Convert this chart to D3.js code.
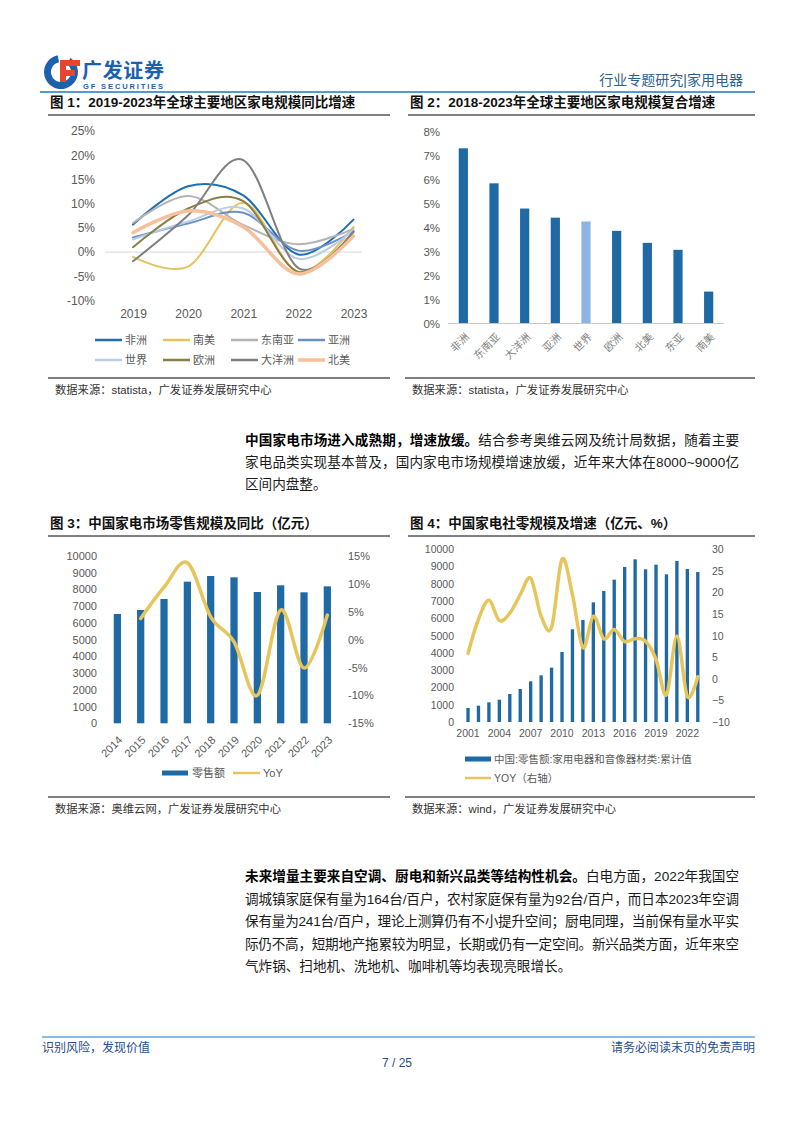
<!DOCTYPE html>
<html>
<head>
<meta charset="utf-8">
<script src="https://cdn.jsdelivr.net/npm/d3@7"></script>
<style>
body { margin: 0; background: #fff; }
svg { display: block; }
text { font-family: "Liberation Sans", "Noto Sans CJK SC", sans-serif; }
</style>
</head>
<body>
<svg id="page" width="794" height="1123"></svg>
<script>
// ---- chart 1 data: yoy growth by region, 2019-2023 (%)
const years1 = ['2019', '2020', '2021', '2022', '2023'];
const regions1 = ['非洲', '南美', '东南亚', '亚洲', '世界', '欧洲', '大洋洲', '北美'];
const africa = [5.7, 13.6, 11.7, -0.5, 6.7];
const southAmerica = [-1.0, -3.0, 10.2, -4.1, 5.2];
const southeastAsia = [6.0, 11.6, 5.6, 1.6, 4.8];
const asia = [3.0, 5.9, 8.1, 0.3, 4.3];
const world = [2.6, 6.3, 9.0, -1.4, 4.6];
const europe = [1.0, 9.0, 10.5, -4.1, 4.1];
const oceania = [-1.9, 7.6, 19.0, -3.3, 4.3];
const northAmerica = [4.0, 8.5, 5.2, -4.5, 3.3];

// ---- chart 2 data: CAGR 2018-2023 (%)
const regions2 = ['非洲', '东南亚', '大洋洲', '亚洲', '世界', '欧洲', '北美', '东亚', '南美'];
const cagr2 = [7.3, 5.84, 4.79, 4.41, 4.25, 3.86, 3.36, 3.07, 1.33];

// ---- chart 3 data: China appliance retail (亿元) and yoy (%)
const years3 = ['2014', '2015', '2016', '2017', '2018', '2019', '2020', '2021', '2022', '2023'];
const retail3 = [6534, 6773, 7430, 8466, 8805, 8725, 7849, 8247, 7829, 8187];
const yoyYears3 = ['2015', '2016', '2017', '2018', '2019', '2020', '2021', '2022', '2023'];
const yoy3 = [3.8, 9.4, 13.8, 4.1, -0.4, -10.0, 5.3, -5.1, 4.4];

// ---- chart 4 data: social retail of appliances (亿元) and yoy (%)
const years4 = d3.range(2001, 2024).map(String);
const retail4 = [811, 946, 1139, 1293, 1622, 1911, 2355, 2703, 3147, 4054, 5367, 5907, 6930,
  7587, 8243, 8977, 9421, 8842, 9112, 8552, 9324, 8861, 8687];
const yoy4 = [5.9, 13.8, 18.2, 13.5, 15.2, 19.5, 23.3, 14.5, 11.9, 27.7, 19.5, 7.2, 14.5,
  9.3, 11.4, 8.6, 9.3, 8.7, 4.5, -3.7, 9.9, -4.1, 0.5];
const xTicks4 = ['2001', '2004', '2007', '2010', '2013', '2016', '2019', '2022'];

const svg = d3.select('#page');
const AX = '#595959';
const BAR = '#1f6aa5';
const YOY = '#e6c65c';
const CN = '"Noto Sans CJK SC", sans-serif';

function clean(g, size) {
  g.select('.domain').remove();
  g.selectAll('.tick line').remove();
  g.selectAll('text').attr('fill', AX).style('font-size', size + 'px');
}

// ================= header =================
const logo = svg.append('g');
const arc = d3.arc().innerRadius(10).outerRadius(17).startAngle(0.6).endAngle(2 * Math.PI - 0.2);
logo.append('path').attr('d', arc).attr('transform', 'translate(61,72)').attr('fill', '#1b62ae');
logo.append('rect').attr('x', 60).attr('y', 60).attr('width', 20).attr('height', 6).attr('fill', '#e8452e');
logo.append('rect').attr('x', 60).attr('y', 70).attr('width', 15).attr('height', 6).attr('fill', '#e8452e');
logo.append('rect').attr('x', 60).attr('y', 60).attr('width', 6).attr('height', 22).attr('fill', '#e8452e');
logo.append('text').attr('x', 82).attr('y', 78).text('广发证券')
  .style('font-family', CN).style('font-weight', 'bold').style('font-size', '20px')
  .attr('fill', '#1b62ae').attr('textLength', 82);
logo.append('text').attr('x', 83).attr('y', 89).text('GF SECURITIES')
  .style('font-weight', 'bold').style('font-size', '7.5px').attr('fill', '#1b62ae').attr('textLength', 80);

svg.append('text').attr('x', 743).attr('y', 85).attr('text-anchor', 'end')
  .style('font-size', '14px').attr('fill', '#2f5f8f').text('行业专题研究|家用电器');
svg.append('line').attr('x1', 40).attr('x2', 755).attr('y1', 92).attr('y2', 92)
  .attr('stroke', '#1a7ac0').attr('stroke-width', 1.5);

// figure titles + rules
function figTitle(x, y, label, x2) {
  svg.append('text').attr('x', x).attr('y', y).style('font-size', '13.5px')
    .style('font-weight', 'bold').attr('fill', '#111').text(label);
  svg.append('line').attr('x1', x - 2).attr('x2', x2).attr('y1', y + 8).attr('y2', y + 8)
    .attr('stroke', '#000').attr('stroke-width', 1);
}
function source(x, y, label, x2) {
  svg.append('line').attr('x1', x - 7).attr('x2', x2).attr('y1', y - 12).attr('y2', y - 12)
    .attr('stroke', '#000').attr('stroke-width', 1);
  svg.append('text').attr('x', x).attr('y', y + 4).style('font-size', '11.3px')
    .attr('fill', '#333').text(label);
}
figTitle(50, 107, '图 1：2019-2023年全球主要地区家电规模同比增速', 390);
figTitle(410, 107, '图 2：2018-2023年全球主要地区家电规模复合增速', 755);
figTitle(50, 528, '图 3：中国家电市场零售规模及同比（亿元）', 390);
figTitle(410, 528, '图 4：中国家电社零规模及增速（亿元、%）', 755);
source(55, 390, '数据来源：statista，广发证券发展研究中心', 390);
source(412, 390, '数据来源：statista，广发证券发展研究中心', 755);
source(55, 809, '数据来源：奥维云网，广发证券发展研究中心', 390);
source(412, 809, '数据来源：wind，广发证券发展研究中心', 755);

// ================= chart 1 =================
{
  const series = [
    { name: regions1[0], v: africa, c: '#1f6fb0', w: 2 },
    { name: regions1[1], v: southAmerica, c: '#e6c35a', w: 2 },
    { name: regions1[2], v: southeastAsia, c: '#b3b3b3', w: 2 },
    { name: regions1[3], v: asia, c: '#6b90c8', w: 2 },
    { name: regions1[4], v: world, c: '#b9cde6', w: 2 },
    { name: regions1[5], v: europe, c: '#8b7e45', w: 2 },
    { name: regions1[6], v: oceania, c: '#7f7f7f', w: 2 },
    { name: regions1[7], v: northAmerica, c: '#f7c09a', w: 3.5 }
  ];
  const x = d3.scalePoint().domain(years1).range([133, 353.5]);
  const y = d3.scaleLinear().domain([-10, 25]).range([300.5, 131]);
  const g = svg.append('g');

  g.append('g').attr('transform', 'translate(95,0)')
    .call(d3.axisLeft(y).tickValues(d3.range(-10, 26, 5)).tickFormat(d => d + '%').tickSize(0).tickPadding(0))
    .call(a => clean(a, 12));
  g.append('g').attr('transform', 'translate(0,309)')
    .call(d3.axisBottom(x).tickSize(0).tickPadding(0))
    .call(a => clean(a, 12));
  g.append('line').attr('x1', 105).attr('x2', 362).attr('y1', y(0)).attr('y2', y(0))
    .attr('stroke', '#d9d9d9').attr('stroke-width', 1);

  const line = d3.line().x((d, i) => x(years1[i])).y(d => y(d)).curve(d3.curveCardinal);
  series.forEach(s => {
    g.append('path').attr('d', line(s.v)).attr('fill', 'none')
      .attr('stroke', s.c).attr('stroke-width', s.w).attr('stroke-linecap', 'round');
  });

  const lx = [95, 163, 231, 298];
  series.forEach((s, i) => {
    const row = Math.floor(i / 4), col = i % 4;
    const ly = 340 + row * 20;
    g.append('line').attr('x1', lx[col]).attr('x2', lx[col] + 27).attr('y1', ly).attr('y2', ly)
      .attr('stroke', s.c).attr('stroke-width', s.w === 2 ? 2.5 : 3.5);
    g.append('text').attr('x', lx[col] + 30).attr('y', ly).attr('dy', '0.35em')
      .style('font-size', '11px').attr('fill', AX).text(s.name);
  });
}

// ================= chart 2 =================
{
  const x = d3.scaleBand().domain(regions2).range([448, 724]).paddingInner(0.7).paddingOuter(0.35);
  const y = d3.scaleLinear().domain([0, 8]).range([323.5, 131.5]);
  const g = svg.append('g');
  g.append('g').attr('transform', 'translate(440,0)')
    .call(d3.axisLeft(y).ticks(8).tickFormat(d => d + '%').tickSize(0).tickPadding(0))
    .call(a => clean(a, 11.5));
  g.selectAll('.bar2').data(regions2).enter().append('rect')
    .attr('x', d => x(d)).attr('width', x.bandwidth())
    .attr('y', (d, i) => y(cagr2[i])).attr('height', (d, i) => y(0) - y(cagr2[i]))
    .attr('fill', d => d === '世界' ? '#8eb4e3' : BAR);
  g.append('line').attr('x1', 448).attr('x2', 724).attr('y1', y(0)).attr('y2', y(0))
    .attr('stroke', '#c8c8c8').attr('stroke-width', 1);
  const xa = g.append('g').attr('transform', 'translate(0,0)')
    .call(d3.axisBottom(x).tickSize(0).tickPadding(0))
    .call(a => clean(a, 10.5));
  xa.selectAll('.tick').attr('transform', d => `translate(${x(d) + x.bandwidth() / 2 + 4},335)`);
  xa.selectAll('text').attr('y', 0).attr('dy', '0.35em').attr('text-anchor', 'end')
    .attr('transform', 'rotate(-45)').attr('fill', '#7f7f7f');
}

// ================= paragraph 1 =================
function para(lines, x, y0, lh, width) {
  lines.forEach((ln, i) => {
    const t = svg.append('text').attr('x', x).attr('y', y0 + i * lh)
      .style('font-size', '13.6px').attr('fill', '#1a1a1a');
    if (ln.b) t.append('tspan').style('font-weight', 'bold').attr('fill', '#000').text(ln.b);
    if (ln.t) t.append('tspan').text(ln.t);
    if (ln.full) t.attr('textLength', width).attr('lengthAdjust', 'spacing');
  });
}
para([
  { b: '中国家电市场进入成熟期，增速放缓。', t: '结合参考奥维云网及统计局数据，随着主要', full: true },
  { t: '家电品类实现基本普及，国内家电市场规模增速放缓，近年来大体在8000~9000亿', full: true },
  { t: '区间内盘整。' }
], 245, 445, 22.2, 494);

// ================= chart 3 =================
{
  const x = d3.scaleBand().domain(years3).range([105.7, 339]).paddingInner(0.69).paddingOuter(0.345);
  const yl = d3.scaleLinear().domain([0, 10000]).range([723.3, 556]);
  const yr = d3.scaleLinear().domain([-15, 15]).range([723.3, 556]);
  const g = svg.append('g');
  g.append('g').attr('transform', 'translate(97,0)')
    .call(d3.axisLeft(yl).ticks(10).tickFormat(d3.format('d')).tickSize(0).tickPadding(0))
    .call(a => clean(a, 11));
  g.append('g').attr('transform', 'translate(348,0)')
    .call(d3.axisRight(yr).tickValues(d3.range(-15, 16, 5)).tickFormat(d => d + '%').tickSize(0).tickPadding(0))
    .call(a => clean(a, 11));
  g.selectAll('.bar3').data(years3).enter().append('rect')
    .attr('x', d => x(d)).attr('width', x.bandwidth())
    .attr('y', (d, i) => yl(retail3[i])).attr('height', (d, i) => yl(0) - yl(retail3[i]))
    .attr('fill', BAR);
  const xa = g.append('g').call(d3.axisBottom(x).tickSize(0).tickPadding(0)).call(a => clean(a, 11));
  xa.selectAll('.tick').attr('transform', d => `translate(${x(d) + x.bandwidth() / 2 + 3},738)`);
  xa.selectAll('text').attr('y', 0).attr('dy', '0.35em').attr('text-anchor', 'end').attr('transform', 'rotate(-45)');
  const line = d3.line().x((d, i) => x(yoyYears3[i]) + x.bandwidth() / 2).y(d => yr(d)).curve(d3.curveCardinal);
  g.append('path').attr('d', line(yoy3)).attr('fill', 'none').attr('stroke', YOY)
    .attr('stroke-width', 3.5).attr('stroke-linecap', 'round');
  // legend
  g.append('rect').attr('x', 162).attr('y', 770.5).attr('width', 26).attr('height', 5).attr('fill', BAR);
  g.append('text').attr('x', 192).attr('y', 773).attr('dy', '0.35em').style('font-size', '11px').attr('fill', AX).text('零售额');
  g.append('line').attr('x1', 233).attr('x2', 260).attr('y1', 773).attr('y2', 773).attr('stroke', YOY).attr('stroke-width', 2.5);
  g.append('text').attr('x', 263).attr('y', 773).attr('dy', '0.35em').style('font-size', '11px').attr('fill', AX).text('YoY');
}

// ================= chart 4 =================
{
  const x = d3.scaleBand().domain(years4).range([462.8, 703]).paddingInner(0.68).paddingOuter(0.34);
  const yl = d3.scaleLinear().domain([0, 10000]).range([722, 549.3]);
  const yr = d3.scaleLinear().domain([-10, 30]).range([722, 549.3]);
  const g = svg.append('g');
  g.append('g').attr('transform', 'translate(454,0)')
    .call(d3.axisLeft(yl).ticks(10).tickFormat(d3.format('d')).tickSize(0).tickPadding(0))
    .call(a => clean(a, 10.5));
  g.append('g').attr('transform', 'translate(712,0)')
    .call(d3.axisRight(yr).tickValues(d3.range(-10, 31, 5)).tickSize(0).tickPadding(0))
    .call(a => clean(a, 10.5));
  g.selectAll('.bar4').data(years4).enter().append('rect')
    .attr('x', d => x(d)).attr('width', x.bandwidth())
    .attr('y', (d, i) => yl(retail4[i])).attr('height', (d, i) => yl(0) - yl(retail4[i]))
    .attr('fill', BAR);
  g.append('g').attr('transform', 'translate(0,730)')
    .call(d3.axisBottom(x).tickValues(xTicks4).tickSize(0).tickPadding(0))
    .call(a => clean(a, 10.5));
  const line = d3.line().x((d, i) => x(years4[i]) + x.bandwidth() / 2).y(d => yr(d)).curve(d3.curveCardinal);
  g.append('path').attr('d', line(yoy4)).attr('fill', 'none').attr('stroke', YOY)
    .attr('stroke-width', 3.5).attr('stroke-linecap', 'round');
  // legend
  g.append('rect').attr('x', 465).attr('y', 756.5).attr('width', 26).attr('height', 5).attr('fill', BAR);
  g.append('text').attr('x', 494).attr('y', 759).attr('dy', '0.35em').style('font-size', '10.5px').attr('fill', AX)
    .text('中国:零售额:家用电器和音像器材类:累计值');
  g.append('line').attr('x1', 465).attr('x2', 491).attr('y1', 778).attr('y2', 778).attr('stroke', YOY).attr('stroke-width', 2.5);
  g.append('text').attr('x', 494).attr('y', 778).attr('dy', '0.35em').style('font-size', '10.5px').attr('fill', AX)
    .text('YOY（右轴）');
}

// ================= paragraph 2 =================
para([
  { b: '未来增量主要来自空调、厨电和新兴品类等结构性机会。', t: '白电方面，2022年我国空', full: true },
  { t: '调城镇家庭保有量为164台/百户，农村家庭保有量为92台/百户，而日本2023年空调', full: true },
  { t: '保有量为241台/百户，理论上测算仍有不小提升空间；厨电同理，当前保有量水平实', full: true },
  { t: '际仍不高，短期地产拖累较为明显，长期或仍有一定空间。新兴品类方面，近年来空', full: true },
  { t: '气炸锅、扫地机、洗地机、咖啡机等均表现亮眼增长。' }
], 245, 881, 22.5, 494);

// ================= footer =================
svg.append('line').attr('x1', 42).attr('x2', 755).attr('y1', 1037).attr('y2', 1037)
  .attr('stroke', '#1a7ac0').attr('stroke-width', 1.2);
svg.append('text').attr('x', 42).attr('y', 1052).style('font-size', '12px').attr('fill', '#1f4e8c').text('识别风险，发现价值');
svg.append('text').attr('x', 755).attr('y', 1052).attr('text-anchor', 'end').style('font-size', '12px')
  .attr('fill', '#1f4e8c').text('请务必阅读末页的免责声明');
svg.append('text').attr('x', 397).attr('y', 1067).attr('text-anchor', 'middle').style('font-size', '12px')
  .attr('fill', '#1f4e8c').text('7 / 25');
</script>
</body>
</html>
